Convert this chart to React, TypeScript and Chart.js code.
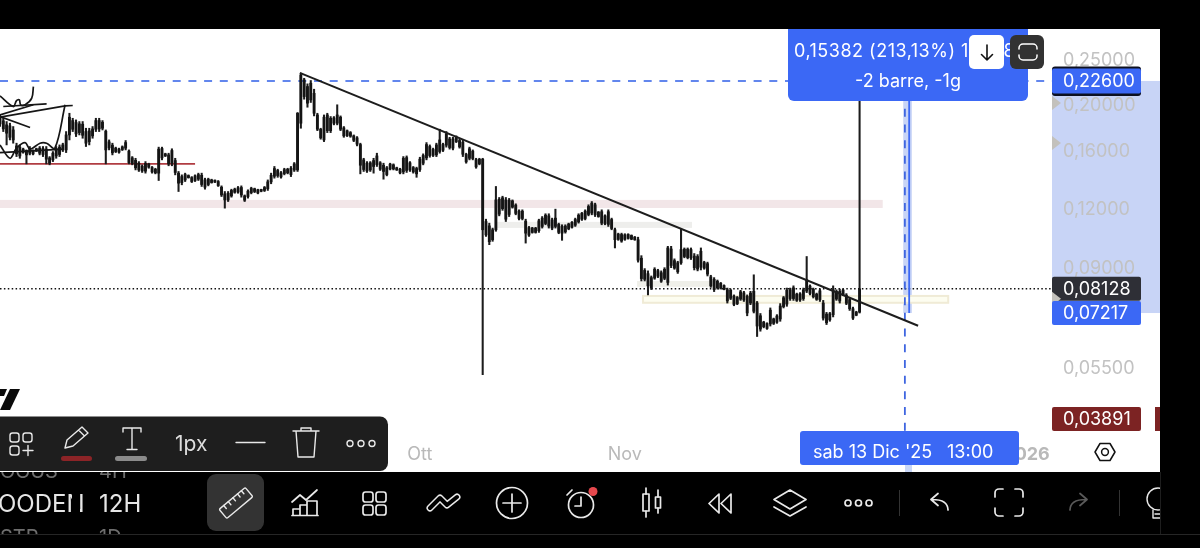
import React, { useEffect, useRef } from "react";
import { Chart, registerables } from "chart.js";

Chart.register(...registerables);

// Candles: one entry per 12H bar, all black in the picture, so body edges are kept as top and bottom.
const highs = [
  .1912,.1881,.1851,.1836,.1806,.1664,.1650,.1624,.1610,.1637,
  .1610,.1624,.1637,.1637,.1637,.1558,.1597,.1637,.1650,.1664,
  .1762,.1928,.1881,.1866,.1851,.1851,.1791,.1791,.1806,.1881,
  .1881,.1860,.1776,.1691,.1664,.1632,.1624,.1642,.1686,.1610,
  .1558,.1545,.1520,.1496,.1520,.1508,.1484,.1471,.1632,.1632,
  .1584,.1584,.1619,.1545,.1448,.1424,.1436,.1424,.1412,.1424,
  .1436,.1436,.1401,.1401,.1394,.1389,.1385,.1349,.1312,.1312,
  .1327,.1334,.1345,.1349,.1290,.1323,.1340,.1334,.1327,.1327,
  .1345,.1389,.1436,.1484,.1464,.1448,.1471,.1471,.1484,.1513,
  .1935,.2348,.2290,.2228,.2265,.2170,.1928,.1791,.1912,.1928,
  .1897,.1897,.2010,.1903,.1806,.1776,.1762,.1733,.1719,.1664,
  .1545,.1520,.1520,.1545,.1584,.1520,.1508,.1484,.1508,.1503,
  .1479,.1471,.1558,.1563,.1520,.1484,.1479,.1553,.1579,.1669,
  .1650,.1624,.1664,.1782,.1664,.1762,.1713,.1713,.1725,.1697,
  .1691,.1584,.1632,.1610,.1545,.1545,.1545,.1145,.1123,.1096,
  .1345,.1274,.1282,.1274,.1268,.1259,.1235,.1199,.1199,.1145,
  .1105,.1100,.1100,.1145,.1160,.1176,.1176,.1151,.1203,.1123,
  .1114,.1114,.1123,.1132,.1151,.1176,.1184,.1199,.1229,.1249,
  .1239,.1189,.1199,.1170,.1199,.1151,.1096,.1069,.1069,.1066,
  .1066,.1060,.1052,.1048,.0957,.0898,.0888,.0866,.0902,.0895,
  .0888,.0902,.1002,.1002,.0942,.0931,.1091,.0994,.0994,.0994,
  .0967,.0962,.0994,.0931,.0927,.0869,.0859,.0849,.0839,.0829,
  .0816,.0812,.0789,.0783,.0807,.0803,.0789,.0803,.0871,.0764,
  .0720,.0693,.0688,.0740,.0704,.0716,.0756,.0783,.0816,.0816,
  .0825,.0796,.0798,.0816,.0953,.0829,.0816,.0796,.0812,.0768,
  .0724,.0724,.0825,.0809,.0812,.0812,.0794,.0777,.0743,.0728,.2260,
];
const lows = [
  .1806,.1762,.1650,.1691,.1664,.1558,.1545,.1584,.1503,.1571,
  .1571,.1597,.1571,.1558,.1503,.1496,.1520,.1545,.1558,.1597,
  .1589,.1691,.1762,.1719,.1733,.1705,.1637,.1650,.1705,.1762,
  .1762,.1776,.1503,.1610,.1571,.1589,.1584,.1605,.1610,.1503,
  .1496,.1459,.1448,.1441,.1436,.1471,.1436,.1431,.1385,.1533,
  .1558,.1489,.1489,.1424,.1312,.1356,.1378,.1401,.1371,.1378,
  .1385,.1345,.1327,.1349,.1367,.1371,.1345,.1280,.1209,.1249,
  .1276,.1301,.1301,.1276,.1249,.1270,.1297,.1305,.1297,.1310,
  .1312,.1319,.1363,.1401,.1407,.1401,.1424,.1431,.1412,.1448,
  .1448,.1791,.2066,.1986,.2033,.1903,.1770,.1697,.1677,.1753,
  .1753,.1821,.1821,.1770,.1713,.1719,.1713,.1677,.1642,.1431,
  .1448,.1441,.1448,.1436,.1484,.1455,.1394,.1417,.1459,.1459,
  .1455,.1431,.1431,.1441,.1448,.1436,.1407,.1448,.1496,.1533,
  .1553,.1558,.1558,.1584,.1597,.1632,.1616,.1610,.1669,.1624,
  .1558,.1508,.1533,.1533,.1471,.1496,.0533,.1052,.1010,.1027,
  .1079,.1164,.1196,.1132,.1160,.1209,.1170,.1141,.1141,.1018,
  .1052,.1069,.1069,.1073,.1096,.1114,.1096,.1087,.1096,.1066,
  .1032,.1069,.1087,.1096,.1105,.1123,.1138,.1141,.1164,.1170,
  .1160,.1156,.1114,.1114,.1105,.1087,.0994,.1032,.1022,.1032,
  .1038,.1035,.1032,.0927,.0845,.0845,.0789,.0810,.0852,.0859,
  .0839,.0850,.0828,.0902,.0895,.0877,.0917,.0947,.0942,.0939,
  .0892,.0888,.0892,.0895,.0866,.0819,.0802,.0812,.0812,.0809,
  .0758,.0771,.0748,.0752,.0768,.0764,.0712,.0752,.0722,.0643,
  .0660,.0671,.0666,.0677,.0682,.0686,.0693,.0740,.0746,.0768,
  .0768,.0764,.0764,.0768,.0798,.0789,.0777,.0768,.0764,.0697,
  .0682,.0693,.0708,.0768,.0758,.0786,.0752,.0731,.0699,.0712,.07217,
];
const bodyTops = [
  .1891,.1857,.1821,.1812,.1776,.1642,.1632,.1616,.1605,.1624,
  .1602,.1619,.1624,.1621,.1616,.1548,.1584,.1621,.1632,.1650,
  .1733,.1891,.1860,.1842,.1830,.1827,.1762,.1768,.1785,.1860,
  .1860,.1845,.1765,.1675,.1648,.1624,.1616,.1634,.1669,.1600,
  .1548,.1530,.1508,.1486,.1506,.1501,.1476,.1464,.1616,.1621,
  .1579,.1571,.1605,.1528,.1436,.1412,.1426,.1419,.1405,.1417,
  .1426,.1421,.1389,.1394,.1389,.1387,.1378,.1340,.1297,.1301,
  .1319,.1327,.1336,.1338,.1284,.1314,.1332,.1330,.1323,.1325,
  .1338,.1376,.1421,.1469,.1455,.1438,.1461,.1464,.1471,.1503,
  .1928,.2328,.2272,.2199,.2235,.2127,.1912,.1782,.1891,.1912,
  .1881,.1884,.1912,.1891,.1794,.1768,.1753,.1725,.1708,.1653,
  .1533,.1508,.1511,.1528,.1563,.1511,.1493,.1474,.1501,.1496,
  .1474,.1464,.1545,.1550,.1511,.1476,.1469,.1538,.1566,.1653,
  .1637,.1613,.1650,.1691,.1653,.1742,.1699,.1699,.1716,.1686,
  .1672,.1574,.1619,.1600,.1535,.1538,.1538,.1132,.1108,.1087,
  .1259,.1263,.1272,.1259,.1257,.1253,.1227,.1191,.1191,.1134,
  .1098,.1096,.1096,.1136,.1151,.1168,.1164,.1141,.1151,.1116,
  .1105,.1107,.1118,.1127,.1143,.1168,.1178,.1191,.1219,.1239,
  .1229,.1186,.1188,.1164,.1188,.1143,.1087,.1064,.1062,.1060,
  .1062,.1057,.1048,.1035,.0945,.0890,.0876,.0859,.0895,.0889,
  .0880,.0895,.0994,.0989,.0934,.0924,.0986,.0988,.0988,.0986,
  .0955,.0953,.0978,.0925,.0920,.0862,.0852,.0844,.0835,.0826,
  .0809,.0807,.0784,.0779,.0801,.0797,.0783,.0796,.0803,.0758,
  .0712,.0690,.0685,.0732,.0701,.0711,.0747,.0778,.0807,.0809,
  .0817,.0792,.0793,.0809,.0850,.0824,.0811,.0792,.0805,.0758,
  .0718,.0719,.0809,.0803,.0803,.0808,.0788,.0771,.0737,.0725,.08128,
];
const bodyBottoms = [
  .1830,.1785,.1748,.1713,.1691,.1579,.1563,.1592,.1571,.1584,
  .1579,.1602,.1584,.1574,.1538,.1508,.1533,.1563,.1574,.1610,
  .1610,.1733,.1782,.1742,.1753,.1730,.1664,.1677,.1725,.1782,
  .1785,.1791,.1610,.1626,.1587,.1597,.1592,.1613,.1624,.1513,
  .1506,.1474,.1459,.1452,.1450,.1479,.1445,.1438,.1436,.1548,
  .1563,.1503,.1508,.1441,.1367,.1371,.1389,.1405,.1378,.1385,
  .1394,.1358,.1340,.1358,.1371,.1374,.1351,.1290,.1259,.1259,
  .1284,.1307,.1309,.1290,.1257,.1280,.1305,.1312,.1303,.1314,
  .1319,.1330,.1376,.1414,.1419,.1410,.1433,.1438,.1426,.1459,
  .1459,.1836,.2093,.2026,.2059,.1928,.1782,.1708,.1691,.1770,
  .1770,.1836,.1836,.1782,.1725,.1728,.1722,.1688,.1656,.1493,
  .1462,.1452,.1459,.1484,.1498,.1464,.1448,.1426,.1466,.1466,
  .1459,.1438,.1445,.1455,.1459,.1445,.1431,.1462,.1508,.1548,
  .1566,.1568,.1571,.1597,.1608,.1648,.1629,.1624,.1677,.1634,
  .1576,.1518,.1545,.1543,.1481,.1503,.1087,.1060,.1025,.1035,
  .1087,.1174,.1206,.1145,.1172,.1215,.1178,.1149,.1149,.1069,
  .1059,.1073,.1073,.1082,.1105,.1121,.1107,.1096,.1105,.1073,
  .1069,.1076,.1092,.1101,.1112,.1130,.1145,.1149,.1172,.1180,
  .1170,.1160,.1123,.1121,.1116,.1094,.1035,.1037,.1028,.1037,
  .1042,.1038,.1035,.0936,.0855,.0852,.0825,.0816,.0857,.0865,
  .0844,.0856,.0839,.0912,.0900,.0884,.0924,.0953,.0948,.0947,
  .0902,.0896,.0904,.0900,.0874,.0825,.0810,.0817,.0816,.0812,
  .0766,.0776,.0753,.0756,.0773,.0770,.0722,.0758,.0728,.0677,
  .0667,.0675,.0669,.0684,.0686,.0690,.0701,.0745,.0754,.0775,
  .0775,.0768,.0770,.0775,.0804,.0795,.0782,.0772,.0771,.0704,
  .0688,.0698,.0716,.0773,.0766,.0790,.0757,.0737,.0704,.0714,.0725,
];

const yTickValues = [0.25, 0.2, 0.16, 0.12, 0.09, 0.055];
const xTickValues = [127, 189, 310.5];
const xTickLabels = ["Ott", "Nov", "2026"];

const measureHigh = 0.226;
const measureLow = 0.07217;
const lastPrice = 0.08128;
const alertPrice = 0.03891;

const trendLineX = [90.7, 277.7];
const trendLineY = [0.2351, 0.0678];
const supportLineEnd = 59;
const supportLevel = 0.1503;
const crosshairBar = 273.7;
const measureBar = 275;
const measureBandStart = 273.2;
const measureBandEnd = 275.8;

const zoneStarts = [0, 149.7, 192.7, 194.5];
const zoneEnds = [267, 209.3, 216, 286.8];
const zoneTops = [0.1259, 0.113, 0.0845, 0.0785];
const zoneBottoms = [0.121, 0.1097, 0.0821, 0.0759];

const markerPrices = [0.2028, 0.1666, 0.0774];

// Hand drawn strokes on the left of the chart: bar position, price.
const scribbleX = [
  [0, 4, 5, 5.85, 6.25, 7.6, 9.6, 10.1],
  [1, 14.1],
  [0, 10.1],
  [0, 19.7, 22],
  [0, 3, 5, 7.6, 9.1, 12.1, 14.1, 16.6, 19.7],
  [0, 9.1],
  [0, 19.2],
];
const scribbleY = [
  [.2100, .1993, .2052, .2059, .2010, .2010, .2076, .2199],
  [.1993, .2019],
  [.1912, .2010],
  [.1891, .2000, .2003],
  [.1650, .1545, .1624, .1669, .1616, .1664, .1664, .1624, .2010],
  [.1897, .1797],
  [.1589, .1616],
];

const FONT = "Inter, 'Noto Sans', sans-serif";
const BLUE = "#3b68f5";
const fmt = (v: number) => v.toFixed(5).replace(".", ",");

const chromePlugin = {
  id: "chrome",
  beforeDraw(chart: any) {
    const { ctx, scales } = chart;
    const x = scales.x;
    const y = scales.y;
    const right = chart.chartArea.right;
    ctx.save();
    ctx.fillStyle = "#c8d4f6";
    const top = y.getPixelForValue(measureHigh);
    const bottom = y.getPixelForValue(measureLow);
    ctx.fillRect(right, top, 108, bottom - top);
    ctx.fillRect(x.getPixelForValue(measureBandStart), top, x.getPixelForValue(measureBandEnd) - x.getPixelForValue(measureBandStart), bottom - top);
    const fills = ["#f2e6e8", "#eeeeec", "#efefe9", "#fdfdf0"];
    zoneStarts.forEach((s, i) => {
      const l = x.getPixelForValue(s);
      const r = x.getPixelForValue(zoneEnds[i]);
      const t = y.getPixelForValue(zoneTops[i]);
      const b = y.getPixelForValue(zoneBottoms[i]);
      ctx.fillStyle = fills[i];
      ctx.fillRect(l, t, r - l, b - t);
      if (i === 3) {
        ctx.strokeStyle = "#f0ebd6";
        ctx.lineWidth = 2;
        ctx.strokeRect(l, t, r - l, b - t);
      }
    });
    ctx.restore();
  },
  afterDraw(chart: any) {
    const { ctx, scales } = chart;
    const y = scales.y;
    const left = chart.chartArea.right;
    const tag = (value: number, fill: string, h = 24, cy?: number) => {
      const c = cy ?? y.getPixelForValue(value);
      ctx.fillStyle = fill;
      ctx.beginPath();
      ctx.roundRect(left, c - h / 2, 89, h, 2);
      ctx.fill();
      ctx.fillStyle = "#ffffff";
      ctx.font = `18px ${FONT}`;
      ctx.textAlign = "left";
      ctx.textBaseline = "middle";
      ctx.fillText(fmt(value), left + 11, c + 0.5);
    };
    ctx.save();
    ctx.fillStyle = "#0c1020";
    ctx.beginPath();
    ctx.roundRect(left, y.getPixelForValue(measureHigh) - 14.5, 89, 29.5, 3);
    ctx.fill();
    tag(measureHigh, BLUE, 25);
    tag(lastPrice, "#2e2f36", 24);
    ctx.fillStyle = "#c3c1bc";
    markerPrices.forEach((p) => {
      const c = y.getPixelForValue(p);
      ctx.beginPath();
      ctx.moveTo(left, c - 7);
      ctx.lineTo(left + 9, c);
      ctx.lineTo(left, c + 7);
      ctx.closePath();
      ctx.fill();
    });
    tag(measureLow, BLUE, 24);
    const alertY = Math.min(y.getPixelForValue(alertPrice), chart.chartArea.bottom - 13);
    tag(alertPrice, "#7c2323", 24, alertY);
    ctx.fillStyle = "#7c2323";
    ctx.fillRect(left + 103, alertY - 12, 5, 24);
    ctx.restore();
  },
};

export default function App() {
  const ref = useRef<HTMLCanvasElement | null>(null);

  useEffect(() => {
    if (!ref.current) return;
    const flat = (x: number, value: number) => ({ x, y: value });
    const lineBase = { type: "line", pointRadius: 0, fill: false, parsing: true as const, borderCapStyle: "butt" };
    const chart = new Chart(ref.current, {
      type: "bar",
      data: {
        datasets: [
          {
            ...lineBase,
            order: 0,
            data: trendLineX.map((x, i) => flat(x, trendLineY[i])),
            borderColor: "#1d1d1d",
            borderWidth: 2,
          },
          ...scribbleX.map((xs, k) => ({
            ...lineBase,
            order: 0,
            data: xs.map((x, i) => flat(x, scribbleY[k][i])),
            borderColor: "#161616",
            borderWidth: 1.7,
            tension: k === 0 || k === 4 ? 0.35 : 0,
          })),
          {
            ...lineBase,
            order: 3,
            data: [flat(0, measureHigh), flat(318.2, measureHigh)],
            borderColor: "#2f5fe8",
            borderWidth: 1.6,
            borderDash: [8, 7.7],
          },
          {
            ...lineBase,
            order: 3,
            data: [flat(0, lastPrice), flat(318.2, lastPrice)],
            borderColor: "#111111",
            borderWidth: 1.5,
            borderDash: [1.5, 2.4],
          },
          {
            ...lineBase,
            order: 4,
            data: [flat(0, supportLevel), flat(supportLineEnd, supportLevel)],
            borderColor: "#b03c42",
            borderWidth: 1.7,
          },
          {
            ...lineBase,
            order: 0,
            data: [flat(measureBar, measureHigh), flat(measureBar, measureLow)],
            borderColor: BLUE,
            borderWidth: 1.8,
          },
          {
            ...lineBase,
            order: 0,
            data: [flat(crosshairBar, 0.29), flat(crosshairBar, 0.0402)],
            borderColor: "#3f66e0",
            borderWidth: 1.8,
            borderDash: [8, 7.7],
          },
          {
            type: "bar",
            order: 1,
            grouped: false,
            data: highs.map((_, i) => ({ x: i, y: [bodyBottoms[i], bodyTops[i]] })),
            backgroundColor: "#141414",
            barThickness: 2.2,
            borderSkipped: false,
          },
          {
            type: "bar",
            order: 2,
            grouped: false,
            data: highs.map((h, i) => ({ x: i, y: [lows[i], h] })),
            backgroundColor: "#1c1c1c",
            barThickness: 1.4,
            borderSkipped: false,
          },
        ] as any,
      },
      options: {
        responsive: false,
        animation: false,
        devicePixelRatio: 1,
        layout: { padding: { top: 29, bottom: 76, left: 0, right: 40 } },
        plugins: { legend: { display: false }, tooltip: { enabled: false } },
        scales: {
          x: {
            type: "linear",
            offset: false,
            min: 0,
            max: 318.2,
            stacked: false,
            grid: { display: false },
            border: { display: false },
            afterBuildTicks: (s: any) => {
              s.ticks = xTickValues.map((value) => ({ value }));
            },
            afterFit: (s: any) => {
              s.height = 40;
            },
            ticks: {
              autoSkip: false,
              maxRotation: 0,
              padding: 4,
              color: "#b9b9b9",
              font: (c: any) => ({ family: FONT, size: 18, weight: c.index === 2 ? "bold" : "normal" }),
              callback: (v: any) => xTickLabels[xTickValues.indexOf(Number(v))] ?? "",
            },
          },
          y: {
            type: "logarithmic",
            position: "right",
            min: 0.0402,
            max: 0.2918,
            bounds: "data",
            grid: { display: false },
            border: { display: false },
            afterBuildTicks: (s: any) => {
              s.ticks = yTickValues.map((value) => ({ value }));
            },
            afterFit: (s: any) => {
              s.width = 108;
            },
            ticks: {
              autoSkip: false,
              align: "center",
              crossAlign: "near",
              padding: 3,
              color: "#c2c2c2",
              font: { family: FONT, size: 18 },
              callback: (v: any) => fmt(Number(v)),
            },
          },
        },
      } as any,
      plugins: [chromePlugin],
    });
    return () => chart.destroy();
  }, []);

  const stroke = { fill: "none", stroke: "#e9e9e9", strokeWidth: 1.7, strokeLinecap: "round" as const, strokeLinejoin: "round" as const };
  const thin = { ...stroke, strokeWidth: 1.4 };

  return (
    <div style={{ position: "fixed", left: 0, top: 0, width: 1200, height: 548, background: "#ffffff", overflow: "hidden" }}>
      <canvas ref={ref} width={1200} height={548} style={{ position: "absolute", left: 0, top: 0, display: "block" }} />
      <svg width={1200} height={548} viewBox="0 0 1200 548" style={{ position: "absolute", left: 0, top: 0, fontFamily: FONT }}>
        <defs>
          <clipPath id="lowClip"><rect x={0} y={472} width={160} height={62} /></clipPath>
          <clipPath id="bulbClip"><rect x={1130} y={472} width={30} height={62} /></clipPath>
        </defs>

        {/* logo fragment */}
        <polygon points="10,389 20,389 10,410 0,410" fill="#0b0b0b" />
        <polygon points="0,389 7,389 4,396 0,396" fill="#0b0b0b" />

        {/* measure box */}
        <rect x={788} y={18} width={240} height={83} rx={6} fill={BLUE} />
        <text x={794} y={57} fontSize={18} fill="#ffffff" letterSpacing={0.5}>0,15382 (213,13%) 15388</text>
        <text x={908} y={87} fontSize={18} fill="#ffffff" textAnchor="middle">-2 barre, -1g</text>
        <rect x={969} y={35} width={35} height={34} rx={5} fill="#ffffff" />
        <path d="M987 45 V60 M981.5 54.5 L987 60 L992.5 54.5" fill="none" stroke="#111" strokeWidth={1.6} strokeLinecap="round" strokeLinejoin="round" />
        <rect x={1010} y={35} width={34} height={34} rx={6} fill="#323232" />
        <path d="M1019 49 v-1 a4 4 0 0 1 4 -4 h10 a4 4 0 0 1 4 4 v1 M1019 55 v1 a4 4 0 0 0 4 4 h10 a4 4 0 0 0 4 -4 v-1" fill="none" stroke="#fff" strokeWidth={1.5} strokeLinecap="round" />

        {/* date label */}
        <rect x={905} y={465} width={7} height={7} fill="#c9d7f8" />
        <rect x={800} y={431} width={219} height={34} rx={3} fill={BLUE} />
        <text x={813} y={458} fontSize={18} fill="#ffffff">sab 13 Dic '25</text>
        <text x={947} y={458} fontSize={18} fill="#ffffff">13:00</text>

        {/* axis settings icon */}
        <polygon points="1095,452 1100,443.5 1110,443.5 1115,452 1110,460.5 1100,460.5" fill="none" stroke="#111" strokeWidth={1.5} strokeLinejoin="round" />
        <circle cx={1105} cy={452} r={3.4} fill="none" stroke="#111" strokeWidth={1.5} />

        {/* frame */}
        <rect x={0} y={0} width={1200} height={29} fill="#000" />
        <rect x={1160} y={0} width={40} height={548} fill="#000" />
        <rect x={0} y={472} width={1200} height={76} fill="#000" />
        <rect x={0} y={534} width={1200} height={1} fill="#262626" />
        <rect x={1160} y={472} width={1} height={62} fill="#1e1e1e" />

        {/* interval list */}
        <g clipPath="url(#lowClip)">
          <text x={0} y={478} fontSize={20} fill="#6e6e6e">OGUS</text>
          <text x={99} y={478} fontSize={20} fill="#6e6e6e">4H</text>
          <text x={-2} y={511.5} fontSize={24} fill="#e6e6e6">OODEN</text>
          <text x={99} y={511.5} fontSize={24} fill="#e6e6e6">12H</text>
          <text x={0} y={544} fontSize={20} fill="#6e6e6e">STR</text>
          <text x={99} y={544} fontSize={20} fill="#6e6e6e">1D</text>
        </g>
        <rect x={72} y={472} width={8} height={62} fill="#000" />

        {/* drawing toolbar */}
        <rect x={-10} y={416.5} width={398} height={54.5} rx={8} fill="#1e1e1e" />
        <g {...thin}>
          <rect x={10} y={433} width={9} height={9} rx={2.5} />
          <rect x={23} y={433} width={9} height={9} rx={2.5} />
          <rect x={10} y={446} width={9} height={9} rx={2.5} />
          <path d="M23 450.5 H33 M28 445.5 V455.5" />
          <path d="M65 448 L67 440 L82 427 L88 433 L73 446 Z M78.5 430 L84.5 436" />
          <path d="M123 432 V428 H141 V432 M132 428 V449 M127 449.5 H137" />
          <path d="M236 442.5 H265" />
          <path d="M293 431 H319 M301 431 V428 H311 V431 M296 431 L298 457 H314 L316 431" />
          <circle cx={350} cy={443.5} r={3} />
          <circle cx={361} cy={443.5} r={3} />
          <circle cx={372} cy={443.5} r={3} />
        </g>
        <rect x={61} y={456} width={31} height={5} rx={2.5} fill="#8c2427" />
        <rect x={115} y={456} width={32} height={5} rx={2.5} fill="#8b8b8b" />
        <text x={175} y={451} fontSize={21} fill="#dddddd">1px</text>

        {/* bottom toolbar */}
        <rect x={207} y={474} width={57} height={57} rx={9} fill="#333333" />
        <g transform="rotate(-40 236 503)" {...thin}>
          <rect x={219} y={497} width={34} height={12} rx={1.5} />
          <path d="M225 497 v4 M231 497 v4 M237 497 v4 M243 497 v4 M248 497 v4" />
        </g>
        <g {...stroke}>
          <path d="M292 502 L300 495 L306 500 L317 490" />
          <path d="M293 515 V509 H300 V515 M300 515 V505 H307 V515 M307 515 V501 H317 V515 M292 515.5 H318" />
          <rect x={363} y={492} width={10} height={10} rx={2.5} />
          <rect x={376} y={492} width={10} height={10} rx={2.5} />
          <rect x={363} y={505} width={10} height={10} rx={2.5} />
          <rect x={376} y={505} width={10} height={10} rx={2.5} />
          <circle cx={512} cy={503} r={15.5} />
          <path d="M512 494 V512 M503 503 H521" />
          <circle cx={581} cy={505} r={12.5} />
          <path d="M581 497 V506 H575 M567 495 L572 490" />
          <rect x={643} y={494} width={6} height={17} />
          <path d="M646 488 V494 M646 511 V517 M658 490 V497 M658 508 V513" />
          <rect x={655.5} y={497} width={5} height={11} />
          <path d="M719 494 L709 503.5 L719 513 Z M731 494 L721 503.5 L731 513 Z" />
          <path d="M774 499.5 L790 490 L806 499.5 L790 509 Z M774 507 L790 516 L806 507" />
          <circle cx={848} cy={503} r={3} />
          <circle cx={858.5} cy={503} r={3} />
          <circle cx={869} cy={503} r={3} />
          <path d="M948 510 C948 502 942 499.5 932 499.5 M938 493.5 L931 499.5 L938 505.5" />
          <path d="M995 497 V493 A4 4 0 0 1 999 489 H1003 M1015 489 H1019 A4 4 0 0 1 1023 493 V497 M1023 508 V512 A4 4 0 0 1 1019 516 H1015 M1003 516 H999 A4 4 0 0 1 995 512 V508" />
        </g>
        <polyline points="430,508 440,498 447,505 457,497" fill="none" stroke="#e9e9e9" strokeWidth={7} strokeLinecap="round" strokeLinejoin="round" />
        <polyline points="430,508 440,498 447,505 457,497" fill="none" stroke="#000" strokeWidth={4} strokeLinecap="round" strokeLinejoin="round" />
        <circle cx={593} cy={491.5} r={4.5} fill="#e5484d" />
        <path d="M1070 510 C1070 502 1076 499.5 1086 499.5 M1080 493.5 L1087 499.5 L1080 505.5" fill="none" stroke="#5a5a5a" strokeWidth={1.7} strokeLinecap="round" strokeLinejoin="round" />
        <rect x={899} y={490} width={1} height={26} fill="#333" />
        <rect x={1119} y={490} width={1} height={26} fill="#333" />
        <g clipPath="url(#bulbClip)" {...thin}>
          <circle cx={1158} cy={499} r={11} />
          <path d="M1153 510 V518 H1163 M1155 514 H1160" />
        </g>
      </svg>
    </div>
  );
}
